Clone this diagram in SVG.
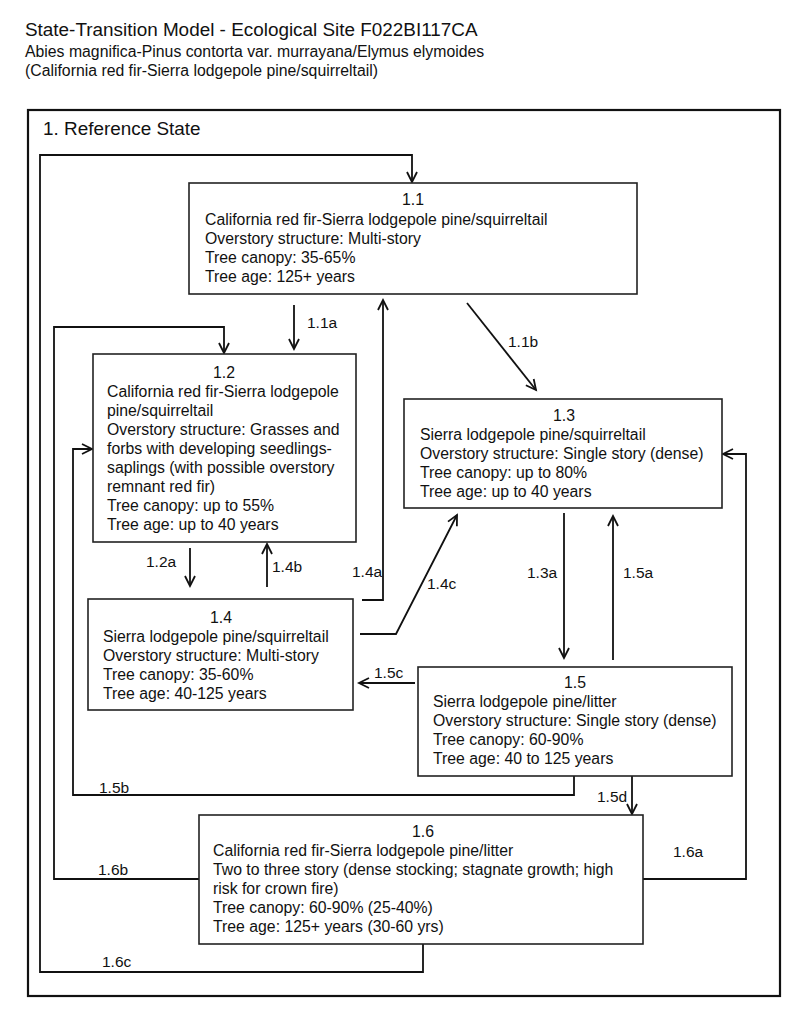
<svg xmlns="http://www.w3.org/2000/svg" width="800" height="1028" viewBox="0 0 800 1028">
<defs>
<marker id="arr" markerUnits="userSpaceOnUse" markerWidth="14" markerHeight="14" refX="11" refY="6" orient="auto" viewBox="0 0 14 12">
<path d="M1,1 L11,6 L1,11" fill="none" stroke="#111" stroke-width="1.8"/>
</marker>
<style>
text{font-family:"Liberation Sans",Arial,sans-serif;fill:#111}
.t{font-size:18.9px}
.s{font-size:15.8px}
.n{font-size:15.8px}
.c{text-anchor:middle}
.lb{font-size:15.5px}
.box{fill:#fff;stroke:#222;stroke-width:1.6}
.ln{fill:none;stroke:#111;stroke-width:1.8}
.ar{fill:none;stroke:#111;stroke-width:1.8;marker-end:url(#arr)}
</style>
</defs>
<rect width="800" height="1028" fill="#fff"/>
<text class="t" x="25" y="36">State-Transition Model - Ecological Site F022BI117CA</text>
<text class="s" x="25" y="57">Abies magnifica-Pinus contorta var. murrayana/Elymus elymoides</text>
<text class="s" x="25" y="76">(California red fir-Sierra lodgepole pine/squirreltail)</text>
<g id="state1">
<rect x="28" y="110" width="752" height="886" fill="none" stroke="#111" stroke-width="2.2"/>
<text class="t" x="43" y="135">1. Reference State</text>
</g>
<g id="connectors">
<path class="ar" d="M423,944 V972 H40 V155 H412 V182"/>
<text class="lb" x="102" y="967">1.6c</text>
<path class="ar" d="M199,879 H54 V327 H224 V353"/>
<text class="lb" x="98" y="875">1.6b</text>
<path class="ar" d="M574,776 V795 H73 V449 H92"/>
<text class="lb" x="99" y="793">1.5b</text>
<path class="ar" d="M643,879 H746 V454 H723"/>
<text class="lb" x="673" y="857">1.6a</text>
<path class="ar" d="M294,305 V349"/>
<text class="lb" x="307" y="328">1.1a</text>
<path class="ar" d="M467,303 L536,390"/>
<text class="lb" x="508" y="347">1.1b</text>
<path class="ar" d="M362,600 H383 V300"/>
<text class="lb" x="352" y="577">1.4a</text>
<path class="ar" d="M360,634 H396 L457,515"/>
<text class="lb" x="427" y="589">1.4c</text>
<path class="ar" d="M190,548 V586"/>
<text class="lb" x="146" y="567">1.2a</text>
<path class="ar" d="M267,587 V544"/>
<text class="lb" x="272" y="572">1.4b</text>
<path class="ar" d="M564,513 V658"/>
<text class="lb" x="527" y="578">1.3a</text>
<path class="ar" d="M613,660 V516"/>
<text class="lb" x="623" y="578">1.5a</text>
<path class="ar" d="M415,683 H359"/>
<text class="lb" x="374" y="678">1.5c</text>
<path class="ar" d="M632,776 V814"/>
<text class="lb" x="597" y="802">1.5d</text>
</g>
<g id="n11">
<rect class="box" x="189" y="183" width="448" height="111"/>
<text class="n c" x="413" y="205">1.1</text>
<text class="n" x="205" y="225">California red fir-Sierra lodgepole pine/squirreltail</text>
<text class="n" x="205" y="244">Overstory structure: Multi-story</text>
<text class="n" x="205" y="263">Tree canopy: 35-65%</text>
<text class="n" x="205" y="282">Tree age: 125+ years</text>
</g>
<g id="n12">
<rect class="box" x="93" y="354" width="263" height="188"/>
<text class="n c" x="224" y="378">1.2</text>
<text class="n" x="107" y="397">California red fir-Sierra lodgepole</text>
<text class="n" x="107" y="416">pine/squirreltail</text>
<text class="n" x="107" y="435">Overstory structure: Grasses and</text>
<text class="n" x="107" y="454">forbs with developing seedlings-</text>
<text class="n" x="107" y="473">saplings (with possible overstory</text>
<text class="n" x="107" y="492">remnant red fir)</text>
<text class="n" x="107" y="511">Tree canopy: up to 55%</text>
<text class="n" x="107" y="530">Tree age: up to 40 years</text>
</g>
<g id="n13">
<rect class="box" x="404" y="399" width="318" height="109"/>
<text class="n c" x="564" y="421">1.3</text>
<text class="n" x="420" y="440">Sierra lodgepole pine/squirreltail</text>
<text class="n" x="420" y="459">Overstory structure: Single story (dense)</text>
<text class="n" x="420" y="478">Tree canopy: up to 80%</text>
<text class="n" x="420" y="497">Tree age: up to 40 years</text>
</g>
<g id="n14">
<rect class="box" x="88" y="599" width="265" height="111"/>
<text class="n c" x="221" y="623">1.4</text>
<text class="n" x="103" y="642">Sierra lodgepole pine/squirreltail</text>
<text class="n" x="103" y="661">Overstory structure: Multi-story</text>
<text class="n" x="103" y="680">Tree canopy: 35-60%</text>
<text class="n" x="103" y="699">Tree age: 40-125 years</text>
</g>
<g id="n15">
<rect class="box" x="418" y="667" width="314" height="109"/>
<text class="n c" x="575" y="688">1.5</text>
<text class="n" x="433" y="707">Sierra lodgepole pine/litter</text>
<text class="n" x="433" y="726">Overstory structure: Single story (dense)</text>
<text class="n" x="433" y="745">Tree canopy: 60-90%</text>
<text class="n" x="433" y="764">Tree age: 40 to 125 years</text>
</g>
<g id="n16">
<rect class="box" x="199" y="815" width="444" height="129"/>
<text class="n c" x="423" y="837">1.6</text>
<text class="n" x="213" y="856">California red fir-Sierra lodgepole pine/litter</text>
<text class="n" x="213" y="875">Two to three story (dense stocking; stagnate growth; high</text>
<text class="n" x="213" y="894">risk for crown fire)</text>
<text class="n" x="213" y="913">Tree canopy: 60-90% (25-40%)</text>
<text class="n" x="213" y="932">Tree age: 125+ years (30-60 yrs)</text>
</g>
</svg>
